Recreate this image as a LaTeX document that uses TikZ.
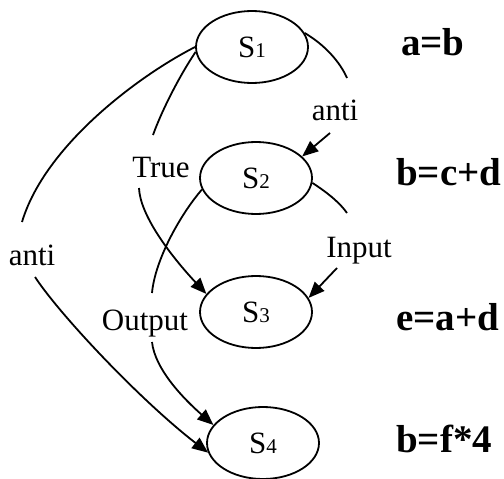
\documentclass[tikz,border=0pt]{standalone}
\usepackage{fontspec}
\setmainfont{Liberation Serif}
\usetikzlibrary{shapes.geometric,arrows.meta}
\newcommand{\snum}[1]{{\fontsize{21}{21}\selectfont #1}}

\begin{document}
\begin{tikzpicture}[x=1pt,y=-1pt,
    state/.style={draw,ellipse,line width=1.8pt,minimum width=112pt,minimum height=72pt,inner sep=0pt,font=\fontsize{31}{36}\selectfont},
    lbl/.style={anchor=base,inner sep=0pt,font=\fontsize{31}{36}\selectfont},
    stmt/.style={anchor=base west,inner sep=0pt,font=\bfseries\fontsize{39}{44}\selectfont},
    link/.style={line width=1.8pt},
    flow/.style={line width=1.8pt,-{Triangle[length=16pt,width=13pt]}}]
    \useasboundingbox (0,0) rectangle (504,479);

    % states
    \node[state] (s1) at (252,47) {S\snum{1}};
    \node[state] (s2) at (256,178) {S\snum{2}};
    \node[state] (s3) at (256,312) {S\snum{3}};
    \node[state] (s4) at (263,443) {S\snum{4}};

    % statements
    \node[stmt] (c1) at (401,55) {a=b};
    \node[stmt] (c2) at (396,185) {b=c+d};
    \node[stmt] (c3) at (396,330) {e=a+d};
    \node[stmt] (c4) at (396,452) {b=f*4};

    % edge labels
    \node[lbl] (anti1) at (335,120) {anti};
    \node[lbl] (true) at (161,177) {True};
    \node[lbl] (input) at (359,257) {Input};
    \node[lbl] (output) at (145,330) {Output};
    \node[lbl] (anti2) at (32,265) {anti};

    % S1 -> S4
    \draw[link] (s1.west) .. controls (140,75) and (45,145) .. ([shift={(-10,-43)}]anti2.base);
    \draw[flow] ([shift={(3,12)}]anti2.base) .. controls (60,315) and (140,400) .. (s4.190);

    % S1 -> S3
    \draw[link] (s1.185) .. controls (180,75) and (162,110) .. ([shift={(-8,-42)}]true.base);
    \draw[flow] ([shift={(-22,11)}]true.base) .. controls (140,215) and (170,255) .. (s3.160);

    % S1 -> S2
    \draw[link] (s1.15) .. controls (325,45) and (340,62) .. ([shift={(12,-42)}]anti1.base);
    \draw[flow] ([shift={(-5,13)}]anti1.base) -- (s2.25);

    % S2 -> S3
    \draw[link] (s2.355) .. controls (328,193) and (340,203) .. ([shift={(-12,-44)}]input.base);
    \draw[flow] ([shift={(-22,11)}]input.base) -- (s3.15);

    % S2 -> S4
    \draw[link] (s2.192) .. controls (180,215) and (155,260) .. ([shift={(7,-37)}]output.base);
    \draw[flow] ([shift={(7,12)}]output.base) .. controls (155,370) and (185,400) .. (s4.160);
\end{tikzpicture}
\end{document}
